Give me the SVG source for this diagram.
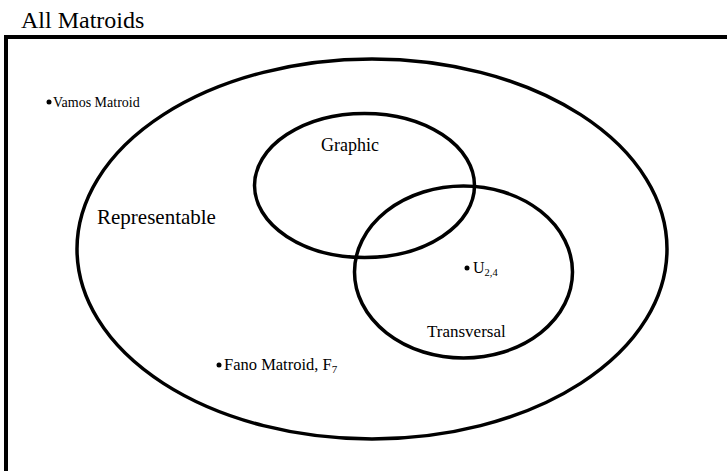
<svg xmlns="http://www.w3.org/2000/svg" width="727" height="471" viewBox="0 0 727 471">
<style>
.t{font-family:'Liberation Serif','DejaVu Serif',serif;fill:#000}
.set{fill:none;stroke:#000;stroke-width:3.5}
.dot{fill:#000}
</style>
<rect width="727" height="471" fill="#fff"/>
<g id="all-matroids">
<path d="M6,480 V37 H740" fill="none" stroke="#000" stroke-width="4"/>
<text class="t" x="21" y="28" font-size="24">All Matroids</text>
</g>
<g id="representable">
<ellipse class="set" cx="372" cy="249" rx="295" ry="190"/>
<text class="t" x="97" y="224" font-size="21">Representable</text>
</g>
<g id="graphic">
<ellipse class="set" cx="364.5" cy="185.5" rx="110" ry="72"/>
<text class="t" x="321" y="151" font-size="18">Graphic</text>
</g>
<g id="transversal">
<ellipse class="set" cx="463.5" cy="272" rx="109" ry="86"/>
<text class="t" x="427" y="337" font-size="17">Transversal</text>
</g>
<g id="vamos">
<circle class="dot" cx="49" cy="102" r="2.5"/>
<text class="t" x="53" y="107" font-size="14">Vamos Matroid</text>
</g>
<g id="u24">
<circle class="dot" cx="467" cy="268" r="2.5"/>
<text class="t" x="473" y="273" font-size="16">U<tspan font-size="10.5" dy="3">2,4</tspan></text>
</g>
<g id="fano">
<circle class="dot" cx="219" cy="365" r="2.5"/>
<text class="t" x="224" y="370" font-size="16.5">Fano Matroid, F<tspan font-size="11" dy="3">7</tspan></text>
</g>
<g id="connectors"/>
</svg>
